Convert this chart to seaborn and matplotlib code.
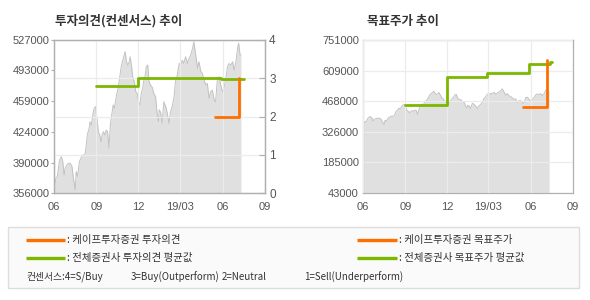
import matplotlib
matplotlib.use('Agg')
import matplotlib.pyplot as plt
from matplotlib.patches import Rectangle
from matplotlib.lines import Line2D
import seaborn as sns
import pandas as pd

# ---------------- data ----------------
price_dates = [
    '2018-06-01', '2018-06-05', '2018-06-08', '2018-06-13', '2018-06-17', '2018-06-20',
    '2018-06-23', '2018-06-25', '2018-06-29', '2018-07-02', '2018-07-06', '2018-07-10',
    '2018-07-13', '2018-07-17', '2018-07-19', '2018-07-22', '2018-07-26', '2018-07-29',
    '2018-08-02', '2018-08-07', '2018-08-10', '2018-08-12', '2018-08-16', '2018-08-18',
    '2018-08-21', '2018-08-24', '2018-08-27', '2018-08-30', '2018-09-02', '2018-09-05',
    '2018-09-08', '2018-09-11', '2018-09-13', '2018-09-16', '2018-09-19', '2018-09-22',
    '2018-09-25', '2018-09-28', '2018-10-01', '2018-10-04', '2018-10-07', '2018-10-10',
    '2018-10-12', '2018-10-15', '2018-10-18', '2018-10-21', '2018-10-24', '2018-10-27',
    '2018-10-30', '2018-11-02', '2018-11-05', '2018-11-08', '2018-11-11', '2018-11-13',
    '2018-11-16', '2018-11-19', '2018-11-22', '2018-11-25', '2018-11-28', '2018-12-01',
    '2018-12-04', '2018-12-07', '2018-12-10', '2018-12-12', '2018-12-15', '2018-12-18',
    '2018-12-21', '2018-12-24', '2018-12-27', '2018-12-31', '2019-01-03', '2019-01-07',
    '2019-01-10', '2019-01-13', '2019-01-15', '2019-01-18', '2019-01-21', '2019-01-25',
    '2019-01-29', '2019-02-01', '2019-02-05', '2019-02-08', '2019-02-12', '2019-02-16',
    '2019-02-19', '2019-02-23', '2019-02-27', '2019-03-02', '2019-03-06', '2019-03-09',
    '2019-03-13', '2019-03-17', '2019-03-20', '2019-03-24', '2019-03-28', '2019-03-31',
    '2019-04-02', '2019-04-04', '2019-04-08', '2019-04-11', '2019-04-15', '2019-04-18',
    '2019-04-22', '2019-04-26', '2019-04-29', '2019-05-03', '2019-05-06', '2019-05-10',
    '2019-05-14', '2019-05-17', '2019-05-21', '2019-05-25', '2019-05-28', '2019-06-01',
    '2019-06-04', '2019-06-08', '2019-06-12', '2019-06-15', '2019-06-19', '2019-06-23',
    '2019-06-26', '2019-06-30', '2019-07-04', '2019-07-06', '2019-07-09', '2019-07-11',
]
price_values = [
    357500, 372800, 374000, 392900, 396600, 391000,
    376000, 383500, 387300, 389200, 389200, 385500,
    372800, 359400, 380000, 374500, 391000, 394700,
    398500, 398500, 409600, 420800, 428300, 435700,
    432000, 443200, 450700, 452500, 439500, 424500,
    420800, 413300, 420800, 424500, 420800, 426400,
    424500, 406000, 432000, 443200, 454400, 450700,
    458000, 467400, 473000, 484200, 495400, 502700,
    508300, 514000, 502700, 499000, 502700, 508300,
    497400, 484200, 480400, 469200, 467400, 458000,
    454400, 467400, 473000, 480400, 486000, 497400,
    499000, 480400, 476700, 474000, 467400, 463600,
    446900, 435700, 449000, 446000, 433900, 458000,
    452500, 446000, 433900, 446000, 452500, 463600,
    480400, 487800, 500700, 499000, 504400, 500700,
    508300, 500700, 506000, 510100, 517500, 525000,
    517500, 510100, 495400, 502700, 491800, 490000,
    482300, 476700, 478500, 461900, 469200, 471000,
    460000, 458000, 484200, 486000, 476700, 469200,
    473000, 484200, 497400, 500700, 499000, 502700,
    493500, 502700, 519600, 523400, 510100, 510100,
]

opinion_kape_dates = ['2019-05-15', '2019-07-06', '2019-07-06']
opinion_kape_values = [2.0, 2.0, 3.0]
opinion_avg_dates = ['2018-09-01', '2018-12-01', '2019-05-28', '2019-07-17']
opinion_avg_values = [2.8, 3.0, 2.97, 2.97]

target_kape_dates = ['2019-05-15', '2019-07-06', '2019-07-06']
target_kape_values = [440000, 440000, 660000]
target_avg_dates = ['2018-09-01', '2018-12-01', '2019-02-26', '2019-05-28', '2019-07-13', '2019-07-17']
target_avg_values = [450000, 580000, 600000, 640000, 648000, 648000]

x_ticks = ['2018-06-01', '2018-09-01', '2018-12-01', '2019-03-01', '2019-06-01', '2019-09-01']
x_ticklabels = ['06', '09', '12', '19/03', '06', '09']
price_yticks = [356000, 390000, 424000, 459000, 493000, 527000]
opinion_yticks = [0, 1, 2, 3, 4]
target_yticks = [43000, 185000, 326000, 468000, 609000, 751000]

title_left = '투자의견(컨센서스) 추이'
title_right = '목표주가 추이'
legend_labels = [': 케이프투자증권 투자의견', ': 전체증권사 투자의견 평균값',
                 ': 케이프투자증권 목표주가', ': 전체증권사 목표주가 평균값']
legend_note = ['컨센서스:4=S/Buy', '3=Buy(Outperform)', '2=Neutral', '1=Sell(Underperform)']
legend_note_x = [26, 131, 222, 304]

# ---------------- style ----------------
sns.set_style('white')
plt.rcParams['font.family'] = ['Liberation Sans', 'Noto Sans CJK KR', 'DejaVu Sans']
KR = ['Noto Sans CJK KR', 'DejaVu Sans']

ORANGE = '#ff6f00'
GREEN = '#7cb800'
AREA = '#e0e0e0'
AREA_LINE = '#c2c2c2'
GRID = '#ececec'
SPINE = '#b0b0b0'
TICK_TXT = '#555555'

price_df = pd.DataFrame({'date': pd.to_datetime(price_dates), 'price': price_values})
op_k = pd.DataFrame({'date': pd.to_datetime(opinion_kape_dates), 'v': opinion_kape_values})
op_a = pd.DataFrame({'date': pd.to_datetime(opinion_avg_dates), 'v': opinion_avg_values})
tg_k = pd.DataFrame({'date': pd.to_datetime(target_kape_dates), 'v': target_kape_values})
tg_a = pd.DataFrame({'date': pd.to_datetime(target_avg_dates), 'v': target_avg_values})
xt = pd.to_datetime(x_ticks)

fig = plt.figure(figsize=(5.9, 3.0), dpi=100)
axL = fig.add_axes([54 / 590, 1 - 193 / 300, 211 / 590, 153 / 300])
axR = fig.add_axes([363 / 590, 1 - 193 / 300, 210 / 590, 153 / 300])


def style_common(ax):
    for s in ax.spines.values():
        s.set_color(SPINE)
        s.set_linewidth(0.9)
    ax.set_xlim(xt[0], xt[-1])
    ax.set_xticks(xt)
    ax.set_xticklabels(x_ticklabels)
    ax.tick_params(axis='x', direction='out', length=2.5, width=0.8, color=SPINE,
                   pad=4, labelsize=8, labelcolor=TICK_TXT)
    ax.set_xlabel('')
    ax.set_ylabel('')


# ---------- left chart ----------
axL.fill_between(price_df['date'], price_df['price'], price_yticks[0], color=AREA, lw=0, zorder=1)
sns.lineplot(data=price_df, x='date', y='price', ax=axL, color=AREA_LINE, lw=0.7, zorder=1.2)
axL.set_ylim(price_yticks[0], price_yticks[-1])
axL.set_yticks(price_yticks)
axL.set_yticklabels([str(v) for v in price_yticks])
axL.tick_params(axis='y', direction='out', length=2, width=0.8, color=SPINE, pad=1,
                labelsize=8, labelcolor=TICK_TXT)
style_common(axL)
axL.set_axisbelow(False)
axL.grid(True, axis='x', color=GRID, lw=0.9, zorder=2)
axL.grid(False, axis='y')

axL2 = axL.twinx()
axL2.grid(True, axis='y', color=GRID, lw=0.9, zorder=0.5)
sns.lineplot(data=op_a, x='date', y='v', ax=axL2, color=GREEN, lw=2.0,
             drawstyle='steps-post', estimator=None, zorder=3)
sns.lineplot(data=op_k, x='date', y='v', ax=axL2, color=ORANGE, lw=2.0,
             estimator=None, sort=False, zorder=4)
axL2.set_ylim(0, 4)
axL2.set_yticks(opinion_yticks)
axL2.tick_params(axis='y', direction='in', length=4, width=0.8, color=SPINE, pad=3,
                 labelsize=8.5, labelcolor=TICK_TXT)
axL2.set_ylabel('')
axL2.set_xlabel('')
for s in axL2.spines.values():
    s.set_color(SPINE)
    s.set_linewidth(0.9)
axL2.set_xlim(xt[0], xt[-1])

# ---------- right chart ----------
axR.fill_between(price_df['date'], price_df['price'], target_yticks[0], color=AREA, lw=0, zorder=1)
sns.lineplot(data=price_df, x='date', y='price', ax=axR, color=AREA_LINE, lw=0.7, zorder=1.2)
sns.lineplot(data=tg_a, x='date', y='v', ax=axR, color=GREEN, lw=2.0,
             drawstyle='steps-post', estimator=None, zorder=3)
sns.lineplot(data=tg_k, x='date', y='v', ax=axR, color=ORANGE, lw=2.0,
             estimator=None, sort=False, zorder=4)
axR.set_ylim(target_yticks[0], target_yticks[-1])
axR.set_yticks(target_yticks)
axR.set_yticklabels([str(v) for v in target_yticks])
axR.tick_params(axis='y', direction='in', length=4, width=0.8, color=SPINE, pad=3,
                labelsize=8, labelcolor=TICK_TXT)
style_common(axR)
axR.set_axisbelow(False)
axR.grid(True, color=GRID, lw=0.9, zorder=2)

# ---------- titles ----------
fig.text(55 / 590, 1 - 21 / 300, title_left, family=KR, fontsize=9, fontweight='bold',
         color='#333333', ha='left', va='center')
fig.text(367 / 590, 1 - 21 / 300, title_right, family=KR, fontsize=9, fontweight='bold',
         color='#333333', ha='left', va='center')

# ---------- legend box ----------
fig.patches.append(Rectangle((8 / 590, 1 - 288 / 300), 571 / 590, 61 / 300,
                             transform=fig.transFigure, facecolor='#fafafa',
                             edgecolor='#dddddd', lw=1.0, zorder=0))
rows_y = [1 - 240 / 300, 1 - 258 / 300]
cols = [(26, 65, 67), (357, 397, 399)]
colors = [ORANGE, GREEN]
k = 0
for ci, (x0, x1, xt0) in enumerate(cols):
    for ri, yy in enumerate(rows_y):
        fig.lines.append(Line2D([x0 / 590, x1 / 590], [yy, yy], transform=fig.transFigure,
                                color=colors[ri], lw=2.4, solid_capstyle='butt'))
        fig.text(xt0 / 590, yy, legend_labels[k], family=KR, fontsize=7.5, color='#333333',
                 ha='left', va='center')
        k += 1
for txt, xx in zip(legend_note, legend_note_x):
    fig.text(xx / 590, 1 - 277 / 300, txt, family=KR, fontsize=7, color='#333333',
             ha='left', va='center')

fig.savefig('out.png', dpi=100)
